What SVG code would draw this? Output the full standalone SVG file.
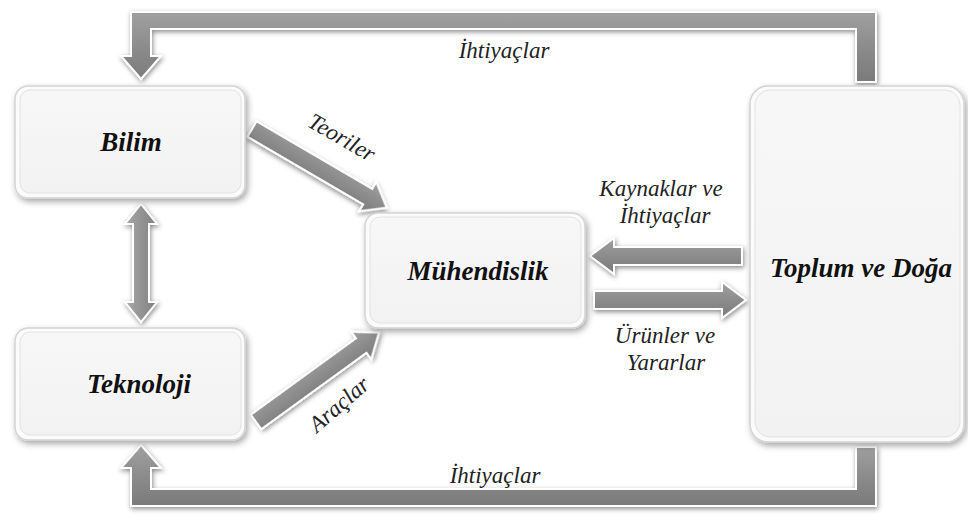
<svg xmlns="http://www.w3.org/2000/svg" width="968" height="524" viewBox="0 0 968 524">
  <defs>
    <filter id="shadow" x="-20%" y="-20%" width="140%" height="140%">
      <feDropShadow dx="2" dy="3" stdDeviation="3" flood-color="#000" flood-opacity="0.35"/>
    </filter>
    <filter id="ashadow" x="-20%" y="-20%" width="140%" height="140%">
      <feDropShadow dx="1" dy="2" stdDeviation="2.5" flood-color="#000" flood-opacity="0.45"/>
    </filter>
    <linearGradient id="gv" x1="0" y1="0" x2="1" y2="0">
      <stop offset="0" stop-color="#a8a8a8"/>
      <stop offset="1" stop-color="#808080"/>
    </linearGradient>
    <linearGradient id="gh" x1="0" y1="0" x2="0" y2="1">
      <stop offset="0" stop-color="#a0a0a0"/>
      <stop offset="0.5" stop-color="#8c8c8c"/>
      <stop offset="1" stop-color="#7a7a7a"/>
    </linearGradient>
    <linearGradient id="gbox" x1="0" y1="0" x2="0" y2="1">
      <stop offset="0" stop-color="#f7f7f7"/>
      <stop offset="1" stop-color="#f2f2f2"/>
    </linearGradient>
  </defs>
  <style>
    .box { fill: #fbfbfb; stroke: #d4d4d4; stroke-width: 1.5; filter: url(#shadow); }
    .inner { fill: url(#gbox); stroke: #e2e2e2; stroke-width: 1; }
    .arrow { fill: url(#gh); stroke: #ffffff; stroke-width: 2; stroke-linejoin: miter; filter: url(#ashadow); }
    .varrow { fill: url(#gv); stroke: #ffffff; stroke-width: 2; filter: url(#ashadow); }
  </style>

  <!-- connectors -->
  <g id="connectors">
    <!-- top feedback: Toplum ve Doğa -> Bilim -->
    <path class="arrow" d="M876,82 L876,12 L131,12 L131,56 L121,56 L141,79 L161,56 L151,56 L151,29 L856,29 L856,82 Z"/>
    <!-- bottom feedback: Toplum ve Doğa -> Teknoloji -->
    <path class="arrow" d="M876,447 L876,506 L131,506 L131,468 L121,468 L141,445 L161,468 L151,468 L151,489 L856,489 L856,447 Z"/>
    <!-- Bilim <-> Teknoloji -->
    <path class="varrow" d="M141,204 L125,224 L133,224 L133,302 L125,302 L141,322 L157,302 L149,302 L149,224 L157,224 Z"/>
    <!-- Teoriler: Bilim -> Mühendislik -->
    <g transform="translate(252,129) rotate(30.3)">
      <path class="arrow" d="M0,-9 L134,-9 L134,-17 L156,0 L134,17 L134,9 L0,9 Z"/>
    </g>
    <!-- Araçlar: Teknoloji -> Mühendislik -->
    <g transform="translate(256,422) rotate(-36)">
      <path class="arrow" d="M0,-9 L130,-9 L130,-17 L152,0 L130,17 L130,9 L0,9 Z"/>
    </g>
    <!-- Kaynaklar ve İhtiyaçlar: Toplum ve Doğa -> Mühendislik -->
    <path class="arrow" d="M742,247 L614,247 L614,238 L590,256 L614,274 L614,265 L742,265 Z"/>
    <!-- Ürünler ve Yararlar: Mühendislik -> Toplum ve Doğa -->
    <path class="arrow" d="M594,291 L722,291 L722,282 L746,300 L722,318 L722,309 L594,309 Z"/>
  </g>

  <!-- connector labels -->
  <g id="labels">
    <text x="504" y="58" font-family="Liberation Serif, serif" font-style="italic" font-size="23" fill="#222" text-anchor="middle">İhtiyaçlar</text>
    <text x="495" y="483" font-family="Liberation Serif, serif" font-style="italic" font-size="23" fill="#222" text-anchor="middle">İhtiyaçlar</text>
    <text transform="translate(338,144) rotate(30)" font-family="Liberation Serif, serif" font-style="italic" font-size="23" fill="#222" text-anchor="middle">Teoriler</text>
    <text transform="translate(344,410) rotate(-41)" font-family="Liberation Serif, serif" font-style="italic" font-size="23" fill="#222" text-anchor="middle">Araçlar</text>
    <text x="661" y="196" font-family="Liberation Serif, serif" font-style="italic" font-size="23" fill="#222" text-anchor="middle">Kaynaklar ve</text>
    <text x="665" y="223" font-family="Liberation Serif, serif" font-style="italic" font-size="23" fill="#222" text-anchor="middle">İhtiyaçlar</text>
    <text x="665" y="343" font-family="Liberation Serif, serif" font-style="italic" font-size="23" fill="#222" text-anchor="middle">Ürünler ve</text>
    <text x="666" y="370" font-family="Liberation Serif, serif" font-style="italic" font-size="23" fill="#222" text-anchor="middle">Yararlar</text>
  </g>

  <!-- nodes -->
  <g id="bilim">
    <rect class="box" x="15" y="86" width="230" height="112" rx="13"/>
    <rect class="inner" x="20" y="90" width="221" height="103" rx="10"/>
    <text x="131" y="151" font-family="Liberation Serif, serif" font-weight="bold" font-style="italic" font-size="27" fill="#111" text-anchor="middle">Bilim</text>
  </g>
  <g id="teknoloji">
    <rect class="box" x="15" y="328" width="230" height="112" rx="13"/>
    <rect class="inner" x="20" y="332" width="221" height="103" rx="10"/>
    <text x="139" y="393" font-family="Liberation Serif, serif" font-weight="bold" font-style="italic" font-size="27" fill="#111" text-anchor="middle">Teknoloji</text>
  </g>
  <g id="muhendislik">
    <rect class="box" x="365" y="213" width="220" height="115" rx="13"/>
    <rect class="inner" x="370" y="217" width="211" height="106" rx="10"/>
    <text x="478" y="280" font-family="Liberation Serif, serif" font-weight="bold" font-style="italic" font-size="27" fill="#111" text-anchor="middle">Mühendislik</text>
  </g>
  <g id="toplum">
    <rect class="box" x="750" y="86" width="214" height="356" rx="18"/>
    <rect class="inner" x="755" y="90" width="205" height="347" rx="15"/>
    <text x="861" y="277" font-family="Liberation Serif, serif" font-weight="bold" font-style="italic" font-size="27" fill="#111" text-anchor="middle">Toplum ve Doğa</text>
  </g>
</svg>
